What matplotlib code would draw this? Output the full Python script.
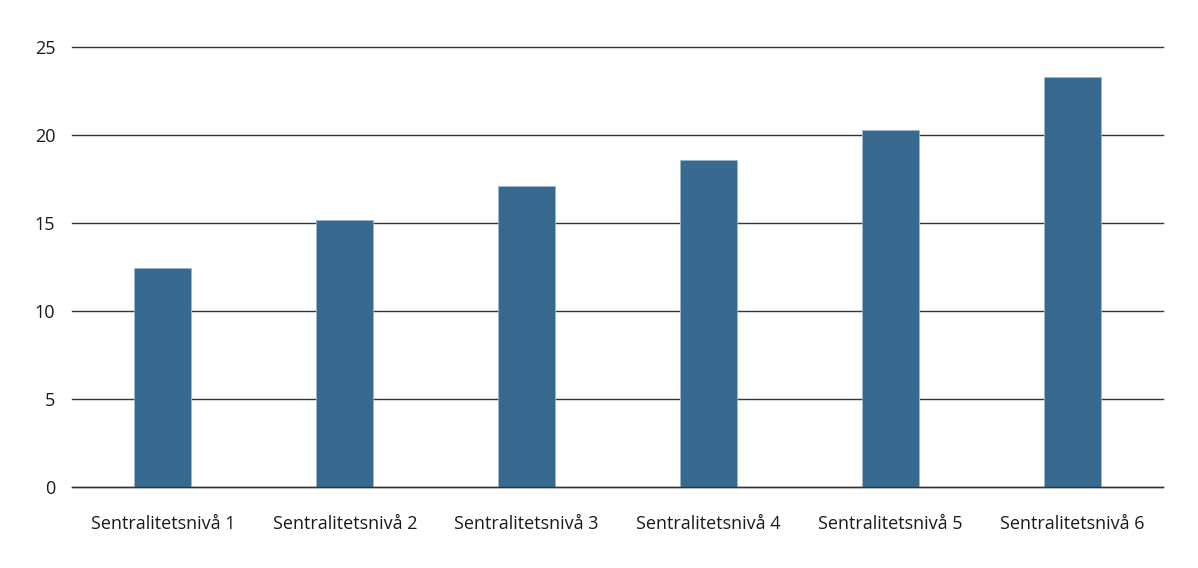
import matplotlib
matplotlib.use("Agg")
import matplotlib.pyplot as plt

categories = ["Sentralitetsnivå 1", "Sentralitetsnivå 2", "Sentralitetsnivå 3",
              "Sentralitetsnivå 4", "Sentralitetsnivå 5", "Sentralitetsnivå 6"]
values = [12.43, 15.15, 17.1, 18.58, 20.28, 23.28]
yticks = [0, 5, 10, 15, 20, 25]

plt.rcParams['font.family'] = ['Open Sans', 'DejaVu Sans']

fig = plt.figure(figsize=(11.98, 5.68), dpi=100)
ax = fig.add_axes([0.0601, 0.1426, 0.9107, 0.7747])

x = list(range(len(categories)))
ax.bar(x, values, width=0.313, color="#386a8f", edgecolor="#9fb6c8", linewidth=0.6, zorder=3)

ax.set_xlim(-0.5, len(categories) - 0.5)
ax.set_ylim(0, 25)
ax.set_yticks(yticks)
ax.set_yticklabels([str(t) for t in yticks])
ax.set_xticks(x)
ax.set_xticklabels(categories)
for t in yticks:
    ax.axhline(t, color="#333333", linewidth=1.0, zorder=1, clip_on=False)
ax.axhline(0, color="#333333", linewidth=1.0, zorder=4, clip_on=False)
for s in ax.spines.values():
    s.set_visible(False)
ax.tick_params(axis='both', length=0, labelsize=13, colors="#1a1a1a")
ax.tick_params(axis='y', pad=12)
ax.tick_params(axis='x', pad=20)

fig.savefig("out.png", dpi=100)
